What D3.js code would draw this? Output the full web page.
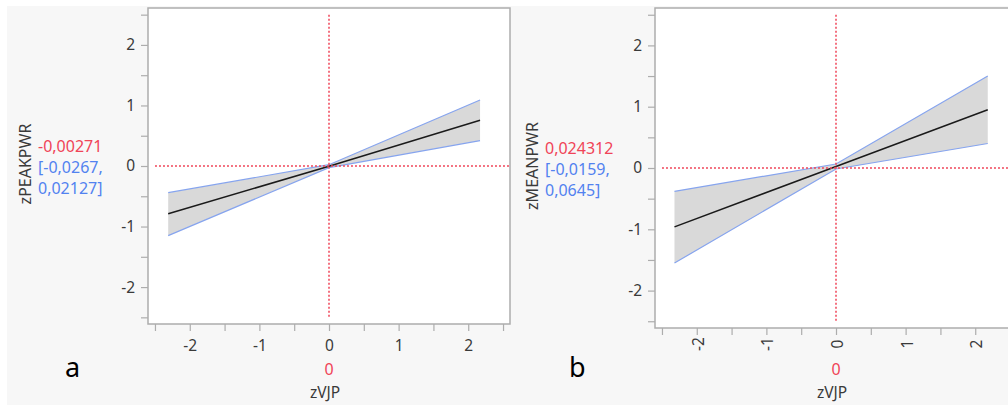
<!DOCTYPE html>
<html>
<head>
<meta charset="utf-8">
<script src="https://cdn.jsdelivr.net/npm/d3@7"></script>
<style>
body { margin: 0; background: #fff; }
text { font-family: "Noto Sans", sans-serif; }
</style>
</head>
<body>
<div id="chart"></div>
<script>
// panel a : zPEAKPWR against zVJP
var xA = [-2.31, 0, 2.17]
var fitA = [-0.79, -0.00271, 0.755]
var lowA = [-1.15, -0.0267, 0.42]
var upA = [-0.44, 0.02127, 1.09]

// panel b : zMEANPWR against zVJP
var xB = [-2.32, 0, 2.18]
var fitB = [-0.96, 0.024312, 0.95]
var lowB = [-1.55, -0.0159, 0.40]
var upB = [-0.38, 0.0645, 1.50]

var tickValues = [-2.5, -2, -1.5, -1, -0.5, 0, 0.5, 1, 1.5, 2, 2.5]
var xLabel = "zVJP"
var xCurrent = "0"
var letters = ["a", "b"]
var yLabels = ["zPEAKPWR", "zMEANPWR"]
var predTexts = ["-0,00271", "0,024312"]
var ciTexts = [["[-0,0267,", "0,02127]"], ["[-0,0159,", "0,0645]"]]

var RED = "#f04458", BLUE = "#5282f0", EDGE = "#86a4ee", FRAME = "#adadad", INK = "#3a3a3a"

var svg = d3.select("#chart").append("svg")
    .attr("width", 1008)
    .attr("height", 406)

svg.append("rect")
    .attr("x", 7).attr("y", 6)
    .attr("width", 1001).attr("height", 399)
    .style("fill", "#f7f7f7")

function drawPanel(p) {
    var x = d3.scaleLinear().domain([-2.6, 2.6]).range([p.left, p.left + p.width])
    var y = d3.scaleLinear().domain([-2.61, 2.61]).range([p.top + p.height, p.top])
    var fmt = function(d) { return Number.isInteger(d) ? String(d) : "" }

    var pts = p.xs.map(function(v, i) { return {x: v, fit: p.fit[i], lo: p.lo[i], hi: p.hi[i]} })

    var g = svg.append("g")

    g.append("rect")
        .attr("x", p.left).attr("y", p.top)
        .attr("width", p.width).attr("height", p.height)
        .style("fill", "#fff")
        .style("stroke", FRAME)
        .style("stroke-width", 1.5)

    // axes
    var yAxis = g.append("g")
        .attr("transform", "translate(" + p.left + ",0)")
        .call(d3.axisLeft(y).tickValues(tickValues).tickSize(7).tickPadding(6).tickFormat(fmt))
    var xAxis = g.append("g")
        .attr("transform", "translate(0," + (p.top + p.height) + ")")
        .call(d3.axisBottom(x).tickValues(tickValues).tickSize(7).tickPadding(9).tickFormat(fmt))

    ;[yAxis, xAxis].forEach(function(a) {
        a.select(".domain").remove()
        a.selectAll("line").style("stroke", FRAME).style("stroke-width", 1.2)
        a.selectAll("text").style("font-size", "15.5px").style("fill", INK).style("font-family", "Noto Sans")
    })

    if (p.rotated) {
        xAxis.selectAll("text")
            .attr("y", 0).attr("dy", "0.35em")
            .attr("transform", "translate(1,16) rotate(-90)")
            .style("text-anchor", "middle")
    }

    // confidence band
    var band = d3.area()
        .x(function(d) { return x(d.x) })
        .y0(function(d) { return y(d.lo) })
        .y1(function(d) { return y(d.hi) })
    g.append("path").datum(pts)
        .attr("d", band)
        .style("fill", "#d9d9d9")

    var edgeLo = d3.line().x(function(d) { return x(d.x) }).y(function(d) { return y(d.lo) })
    var edgeHi = d3.line().x(function(d) { return x(d.x) }).y(function(d) { return y(d.hi) })
    ;[edgeLo, edgeHi].forEach(function(l) {
        g.append("path").datum(pts)
            .attr("d", l)
            .style("fill", "none")
            .style("stroke", EDGE)
            .style("stroke-width", 1.2)
    })

    g.append("path").datum(pts)
        .attr("d", d3.line().x(function(d) { return x(d.x) }).y(function(d) { return y(d.fit) }))
        .style("fill", "none")
        .style("stroke", "#1a1a1a")
        .style("stroke-width", 1.5)

    // red crosshair at current values
    g.append("line")
        .attr("x1", x(0)).attr("x2", x(0))
        .attr("y1", y(2.5)).attr("y2", y(-2.5))
        .style("stroke", RED).style("stroke-width", 1.5).style("stroke-dasharray", "2,2")
    g.append("line")
        .attr("x1", x(-2.5)).attr("x2", x(2.6))
        .attr("y1", y(0)).attr("y2", y(0))
        .style("stroke", RED).style("stroke-width", 1.5).style("stroke-dasharray", "2,2")

    // y label + predicted value
    g.append("text")
        .attr("transform", "translate(" + (p.left - 123) + "," + (y(0) - 2) + ") rotate(-90)")
        .attr("dy", "0.35em")
        .style("text-anchor", "middle")
        .style("font-size", "16px")
        .style("fill", INK)
        .text(p.yLabel)

    var lines = [p.pred].concat(p.ci)
    g.selectAll(".val").data(lines).enter()
        .append("text")
        .attr("class", "val")
        .attr("x", p.left - 110)
        .attr("y", function(d, i) { return y(0) - 20 + i * 21 })
        .attr("dy", "0.35em")
        .style("font-size", "16px")
        .style("fill", function(d, i) { return i == 0 ? RED : BLUE })
        .text(function(d) { return d })

    // x label + current value
    g.append("text")
        .attr("x", x(0)).attr("y", 369).attr("dy", "0.35em")
        .style("text-anchor", "middle").style("font-size", "16px").style("fill", RED)
        .text(xCurrent)
    g.append("text")
        .attr("x", x(0) - 4).attr("y", 393).attr("dy", "0.35em")
        .style("text-anchor", "middle").style("font-size", "15.5px").style("fill", INK)
        .text(xLabel)

    g.append("text")
        .attr("x", p.letterX).attr("y", 377)
        .style("font-size", "27px").style("fill", "#000")
        .text(p.letter)
}

drawPanel({left: 148, top: 8, width: 362, height: 316, xs: xA, fit: fitA, lo: lowA, hi: upA,
    yLabel: yLabels[0], pred: predTexts[0], ci: ciTexts[0], letter: letters[0], letterX: 65, rotated: false})
drawPanel({left: 655, top: 8, width: 362, height: 320, xs: xB, fit: fitB, lo: lowB, hi: upB,
    yLabel: yLabels[1], pred: predTexts[1], ci: ciTexts[1], letter: letters[1], letterX: 569, rotated: true})
</script>
</body>
</html>
